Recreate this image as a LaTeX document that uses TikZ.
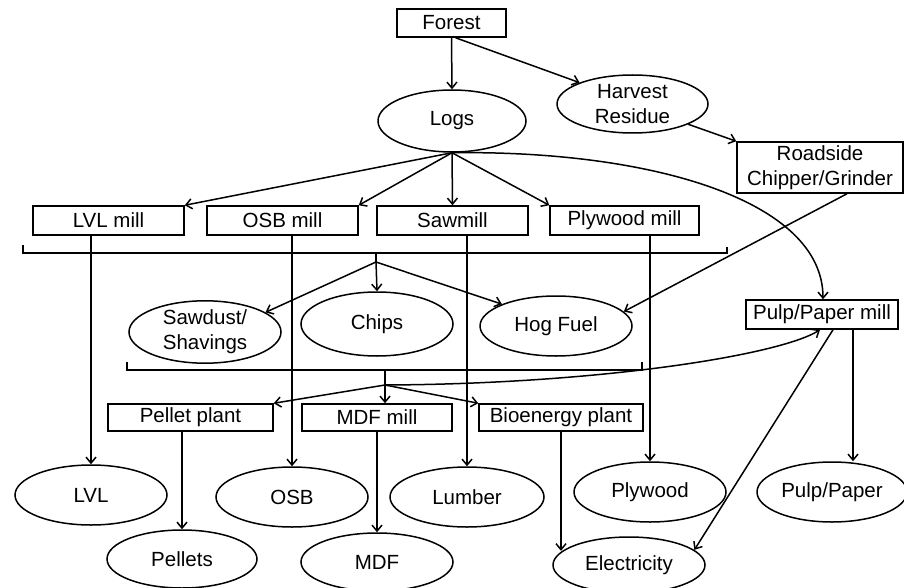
\documentclass[tikz,border=0pt]{standalone}
\usepackage{fontspec}
\setmainfont{Liberation Sans}
\usetikzlibrary{arrows.meta,shapes.geometric}
\begin{document}
\begin{tikzpicture}[x=1pt,y=-1pt,
  every node/.style={font=\fontsize{20.5}{25}\selectfont, inner sep=0pt, line width=1.5pt, align=center},
  box/.style={draw, rectangle},
  oval/.style={draw, ellipse, minimum width=152pt, minimum height=60pt},
  arr/.style={line width=1.5pt, -{Straight Barb[length=6pt,width=10pt]}},
  ln/.style={line width=1.5pt}]
\useasboundingbox (0,0) rectangle (904,588);
% rectangles
\node[box, minimum width=109pt, minimum height=28pt] (forest) at (451.5,23) {Forest};
\node[box, minimum width=151pt, minimum height=29pt] (lvlmill) at (108.5,220.5) {LVL mill};
\node[box, minimum width=151pt, minimum height=29pt] (osbmill) at (282.5,220.5) {OSB mill};
\node[box, minimum width=151pt, minimum height=29pt] (sawmill) at (452.5,220.5) {Sawmill};
\node[box, minimum width=149pt, minimum height=29pt] (plymill) at (624.5,220.5) {Plywood mill};
\node[box, minimum width=166pt, minimum height=51pt] (roadside) at (820,167.5) {Roadside\\Chipper/Grinder};
\node[box, minimum width=152pt, minimum height=29pt] (pulpmill) at (822,314.5) {Pulp/Paper mill};
\node[box, minimum width=165pt, minimum height=27pt] (pellet) at (190.5,417.5) {Pellet plant};
\node[box, minimum width=150pt, minimum height=27pt] (mdfmill) at (377,417.5) {MDF mill};
\node[box, minimum width=164pt, minimum height=27pt] (bioplant) at (561,417.5) {Bioenergy plant};
% ellipses
\node[oval, minimum width=148pt, minimum height=62pt] (logs) at (452,121) {Logs};
\node[oval, minimum width=151pt, minimum height=58pt] (harvest) at (632.5,104) {Harvest\\Residue};
\node[oval] (sawdust) at (205,332) {Sawdust/\\Shavings};
\node[oval, minimum height=64pt] (chips) at (377,324) {Chips};
\node[oval] (hogfuel) at (556,326) {Hog Fuel};
\node[oval] (lvl) at (91,495) {LVL};
\node[oval] (osb) at (292,497) {OSB};
\node[oval, minimum width=154pt] (lumber) at (467,497) {Lumber};
\node[oval] (plywood) at (650,492) {Plywood};
\node[oval, minimum width=150pt] (pulppaper) at (832,492) {Pulp/Paper};
\node[oval, minimum width=150pt, minimum height=58pt] (pellets) at (182,559) {Pellets};
\node[oval, minimum height=58pt] (mdf) at (377,562) {MDF};
\node[oval, minimum height=56pt] (electricity) at (629,565) {Electricity};
% braces
\coordinate (b1top) at (376,253);
\coordinate (b1) at (376,262);
\coordinate (b2top) at (385,370);
\coordinate (b2) at (385,385);
\draw[ln] (23,245) -- (23,253) -- (727,253) -- (727,247);
\draw[ln] (b1top) -- (b1);
\draw[ln] (127,362) -- (127,370) -- (642,370) -- (642,362);
\draw[ln] (b2top) -- (b2);
% connectors
\draw[arr] (forest.south) -- (logs.north);
\draw[arr] ([xshift=4pt]forest.south) -- (harvest.158);
\draw[arr] (harvest.-20) -- (roadside.north west);
\draw[arr] (logs.south) -- (lvlmill.north east);
\draw[arr] (logs.south) -- (osbmill.north east);
\draw[arr] (logs.south) -- (sawmill.north);
\draw[arr] (logs.south) -- (plymill.north west);
\draw[arr] (logs.south) .. controls (650,150) and (823,200) .. ([xshift=1pt]pulpmill.north);
\draw[arr] (b1) -- (sawdust.18);
\draw[arr] (b1) -- (chips.north);
\draw[arr] (b1) -- (hogfuel.158);
\draw[arr] ([xshift=27pt]roadside.south) -- (hogfuel.12);
\draw[arr] (b2) -- (pellet.north east);
\draw[arr] (b2) -- ([xshift=8pt]mdfmill.north);
\draw[arr] (b2) -- (bioplant.north west);
\draw[arr] (b2) .. controls (600,384) and (780,355) .. ([xshift=-2pt]pulpmill.south);
\draw[arr] (lvlmill.south -| lvl.north) -- (lvl.north);
\draw[arr] (osbmill.south -| osb.north) -- (osb.north);
\draw[arr] (sawmill.south -| lumber.north) -- (lumber.north);
\draw[arr] (plymill.south -| plywood.north) -- (plywood.north);
\draw[arr] ([xshift=31pt]pulpmill.south) -- ([xshift=31pt]pulpmill.south |- pulppaper.north);
\draw[arr] (pellet.south -| pellets.north) -- (pellets.north);
\draw[arr] (mdfmill.south) -- (mdf.north);
\draw[arr] (bioplant.south) -- (bioplant.south |- electricity.168);
\draw[arr] ([xshift=11pt]pulpmill.south) -- (electricity.13);
\end{tikzpicture}
\end{document}
